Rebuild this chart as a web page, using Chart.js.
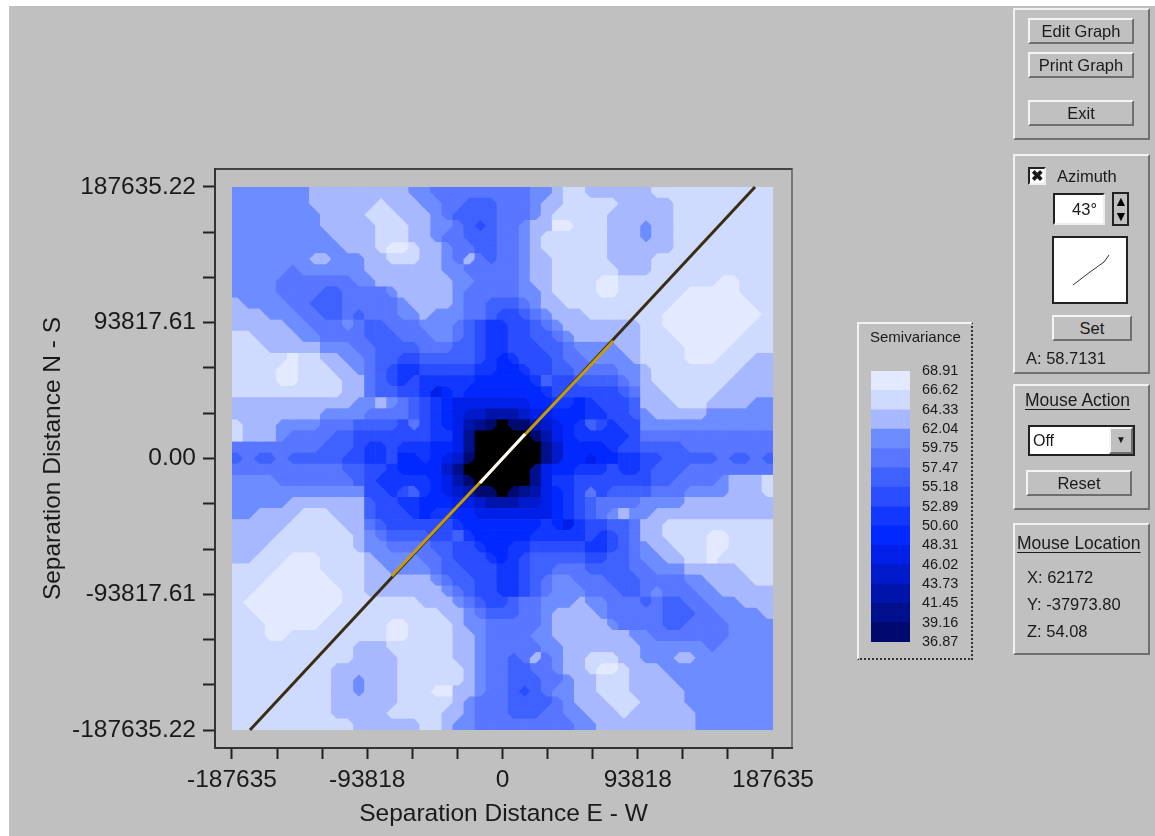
<!DOCTYPE html>
<html lang="en">
  <head>
    <meta charset="UTF-8" />
    <title>Semivariance Map</title>
    <script src="https://cdn.jsdelivr.net/npm/chart.js"></script>
    <style>
      html, body {
        margin: 0;
        padding: 0;
        width: 1155px;
        height: 836px;
        overflow: hidden;
        background: #fff;
        font-family: "Liberation Sans", Arial, sans-serif;
        color: #1a1a1a;
      }
      #sheet { position: absolute; left: 9px; top: 6px; width: 1146px; height: 830px; background: #c0c0c0; }
      #frame {
        position: absolute;
        left: 214px; top: 168px; width: 577px; height: 579px;
        border-top: 2px solid #444;
        border-right: 2px solid #777;
      }
      #mapBox { position: absolute; left: 0; top: 0; width: 1155px; height: 836px; }
      #legendBox { position: absolute; left: 860px; top: 355px; width: 110px; height: 300px; }
      .panel {
        position: absolute;
        box-sizing: border-box;
        border: 2px solid;
        border-color: #f2f2f2 #707070 #707070 #f2f2f2;
      }
      .btn {
        position: absolute;
        box-sizing: border-box;
        background: #c0c0c0;
        border: 2px solid;
        border-color: #f4f4f4 #6e6e6e #6e6e6e #f4f4f4;
        text-align: center;
        font-size: 16.5px;
      }
      .txt { position: absolute; font-size: 16.5px; white-space: nowrap; line-height: 18px; }
      .head { text-decoration: underline; text-underline-offset: 3px; font-size: 17.5px; }
    </style>
  </head>
  <body>
    <div id="sheet"></div>
    <div id="frame"></div>
    <div id="mapBox"><canvas id="mapChart" width="1155" height="836"></canvas></div>

    <div class="panel" style="left:857px;top:322px;width:116px;height:338px;border-right:2px dotted #333;border-bottom:2px dotted #333;"></div>
    <div class="txt" style="left:870px;top:328px;font-size:15px;">Semivariance</div>
    <div id="legendBox"><canvas id="legendChart" width="110" height="300"></canvas></div>

    <div class="panel" style="left:1013px;top:8px;width:137px;height:132px;"></div>
    <div class="btn" style="left:1028px;top:18px;width:106px;height:26px;line-height:22px;">Edit Graph</div>
    <div class="btn" style="left:1028px;top:52px;width:106px;height:26px;line-height:22px;">Print Graph</div>
    <div class="btn" style="left:1028px;top:100px;width:106px;height:26px;line-height:22px;">Exit</div>

    <div class="panel" style="left:1013px;top:154px;width:137px;height:220px;"></div>
    <div style="position:absolute;left:1028px;top:167px;width:18px;height:18px;box-sizing:border-box;background:#fff;border:2px solid #222;border-right-color:#eee;border-bottom-color:#eee;text-align:center;font:bold 15px/14px 'Liberation Sans';">&#10006;</div>
    <div class="txt" style="left:1057px;top:167px;">Azimuth</div>
    <div style="position:absolute;left:1053px;top:193px;width:52px;height:32px;box-sizing:border-box;background:#fff;border:2px solid #222;border-right-color:#eee;border-bottom-color:#eee;text-align:right;padding-right:6px;font-size:16.5px;line-height:28px;">43°</div>
    <div style="position:absolute;left:1112px;top:192px;width:17px;height:34px;box-sizing:border-box;border:2px solid #222;background:#c0c0c0;color:#000;font-size:14px;line-height:15px;text-align:center;">&#9650;<br />&#9660;</div>
    <div style="position:absolute;left:1052px;top:236px;width:76px;height:68px;box-sizing:border-box;background:#fff;border:2px solid #222;">
      <svg width="72" height="64"><polyline points="19,47 36,34 50,24 55,17" fill="none" stroke="#333" stroke-width="1" /></svg>
    </div>
    <div class="btn" style="left:1052px;top:315px;width:80px;height:26px;line-height:22px;">Set</div>
    <div class="txt" style="left:1026px;top:349px;">A: 58.7131</div>

    <div class="panel" style="left:1013px;top:384px;width:137px;height:126px;"></div>
    <div class="txt head" style="left:1025px;top:391px;">Mouse Action</div>
    <div style="position:absolute;left:1028px;top:425px;width:107px;height:31px;box-sizing:border-box;background:#fff;border:2px solid #222;border-right-color:#222;font-size:16px;line-height:27px;padding-left:3px;">Off</div>
    <div class="btn" style="left:1109px;top:427px;width:24px;height:27px;line-height:22px;font-size:10px;">&#9660;</div>
    <div class="btn" style="left:1026px;top:470px;width:106px;height:26px;line-height:22px;">Reset</div>

    <div class="panel" style="left:1013px;top:523px;width:137px;height:132px;"></div>
    <div class="txt head" style="left:1017px;top:534px;">Mouse Location</div>
    <div class="txt" style="left:1027px;top:568px;">X: 62172</div>
    <div class="txt" style="left:1027px;top:595px;">Y: -37973.80</div>
    <div class="txt" style="left:1027px;top:622px;">Z: 54.08</div>

    <script>
      const levels = [36.87, 39.16, 41.45, 43.73, 46.02, 48.31, 50.6, 52.89, 55.18, 57.47, 59.75, 62.04, 64.33, 66.62, 68.91];
      const levelLabels = ["36.87", "39.16", "41.45", "43.73", "46.02", "48.31", "50.60", "52.89", "55.18", "57.47", "59.75", "62.04", "64.33", "66.62", "68.91"];
      const bandColors = ["#000a6e", "#000f8c", "#0014ac", "#001acc", "#0020ea", "#0028ff", "#1238ff", "#2a4dff", "#3f62ff", "#5876ff", "#6d8cff", "#a8b8ff", "#cfdaff", "#e3e9ff"];
      const belowColor = "#000000";

      const xTicks = [-187635, -156362.5, -125090, -93817.5, -62545, -31272.5, 0, 31272.5, 62545, 93817.5, 125090, 156362.5, 187635];
      const xTickLabels = ["-187635", "", "", "-93818", "", "", "0", "", "", "93818", "", "", "187635"];
      const yTicks = [-187635.22, -156362.68, -125090.15, -93817.61, -62545.07, -31272.54, 0, 31272.54, 62545.07, 93817.61, 125090.15, 156362.68, 187635.22];
      const yTickLabels = ["-187635.22", "", "", "-93817.61", "", "", "0.00", "", "", "93817.61", "", "", "187635.22"];

      // azimuth line
      const lineDarkX = [-175150, 175150];
      const lineDarkY = [-187635, 187635];
      const lineGoldX = [-76800, 76800];
      const lineGoldY = [-81200, 81200];
      const lineWhiteX = [-15600, 15600];
      const lineWhiteY = [-16900, 16900];

      // map cells, north row first: 0 is below the scale, 1-9 a-e are the legend bands bottom to top
      const mapRows = [
        "bbbbbbbcccccccccbbaaaaaaaaabbcddccccccddddddddddd",
        "bbbbbbbccccccdcccbbaa999aaabccdddddcccccddddddddd",
        "bbbbbbbbccccdddcccba9999aaabcdddddccccccddddddddd",
        "bbbbbbbbcccccdddccbba989aabcceedddcccbccddddddddd",
        "bbbbbbbbbccccdddccbaa999aabcddddddcccbccddddddddd",
        "bbbbbbbbbbcccdeedccbaa99aabcddddddccccccddddddddd",
        "bbbbbbbccbbbccdddccbaca9aabccdddddccccddddddddddd",
        "bbbbbabbbbbbcccccccbbaaaaabccddddddcccddddddddddd",
        "bbbbaaaaaaabbcccccccbbaaaabccddddeedddddddddeeddd",
        "bbbbaaaa99aaaabcccccbaaaaabbcddddeeddddddeeeeeddd",
        "cbbbbaa999aaaaabccccbaa999abccddddddddddeeeeeeedd",
        "cccbbbaa99a9aaabbcbbbaa9889abcccdddddddeeeeeeeeed",
        "cccccbbaaaba99aaabbba9877889abcccccccddeeeeeeeedd",
        "ddccccbbaaaa999aaabba98778899abccccccdddeeeeeeddd",
        "dddcccccbbbaa9999aaa9987788899abbbbccddddeeeedddd",
        "dddddeddccbba99889999987678889aabbbbcddddeeedddcc",
        "ddddeedddccba987788888776678899aaaabbcddddddddccc",
        "ddddeeddddcca9878777776666679889999abcdddddddcccc",
        "ddddddddddcca99887567666666678888889accdddddccccc",
        "cccccccccccbbcba987655555556677678889cccdddccccbb",
        "ccccccccbbbbaaaa987654433345566677889bcccccbbbbbb",
        "dcccbbbbaaa99998a87653210113456798788bbbbbbbbbbbb",
        "dcccbaaaa9988888887752000001356777778aaaaaaaaaaaa",
        "aaaaaaaa999877877766520000002466667889999aaaaaaaa",
        "9a99a999998877866765410000002466566778899999a99a9",
        "aaaaaaaaaa9988766664200000025667778778999aaaaaaaa",
        "bbbbaaaaaaa98777776531000002577888888899aaaabcccd",
        "bbbbbbbbbbbb88789765431101235678a89999aaabbbbcccd",
        "bbbbbccccccc988776665543334456789aaaabbbbcccccccc",
        "bbccccdddccc988876776655555556789abcbbccccccccccc",
        "cccccdddddcca98888887666666676578899accdddddddddd",
        "ccccdddddddcba9999889766666777778789accddddeedddd",
        "cccddddddddcbbaaaa998876677888887789abccdddeedddd",
        "ccdddeeeddddcbbbbaa98887678999998899abbccddeddddd",
        "ddddeeeeddddccbbbba9988877899aaa9999aabbbcccccddd",
        "dddeeeeeedddccccccba99887789abbaaa999aaaabbccccdd",
        "ddeeeeeeeeddcccccccba9887789abbbaaa99abaaabbccccc",
        "deeeeeeeeedddddddcccba9889aabbbcbbaaa9a99aabbbccc",
        "ddeeeeeeeddddddddddccba999aabccccbaaaaa999aabbbbc",
        "dddeeeeeddddddeeddddcbbaaaaabcccccbaaaa99aaaabbbb",
        "dddeedddddddddeeddddccbaaaabbcccccccbbaaaaaaabbbb",
        "dddddddddddcccddddddccbaaaaabbcccccccbbbbbbabbbbb",
        "dddddddddddccccdddddccbaa9acabccdddccbbbccbbbbbbb",
        "dddddddddccccccddddddcbaa99aabccdeedcccbbbbbbbbbb",
        "dddddddddccbcccddddddcbaa999aabccdddccccbbbbbbbbb",
        "dddddddddccbcccdddeeccbaa989abbccdddcccccbbbbbbbb",
        "dddddddddccccccdddddcbaaa9999abcccdddccccbbbbbbbb",
        "dddddddddcccccdddddccbaaa999aabbcccdccccccbbbbbbb",
        "dddddddddddccccccddcbbaaaaaaaaabbcccccccccbbbbbbb"
      ];

      const cellChars = "0123456789abcde";
      const mapStep = 375270 / 49;
      const cells = [];
      const corners = [];
      mapRows.forEach((row, r) => {
        for (let c = 0; c < row.length; c++) {
          cells.push({
            x: -187635 + (c + 0.5) * mapStep,
            y: 187635.22 - (r + 0.5) * mapStep,
            band: cellChars.indexOf(row[c]),
          });
        }
      });
      // where three of four neighbouring cells agree, cut the odd cell's corner so contours run diagonal
      for (let r = 0; r < mapRows.length - 1; r++) {
        for (let c = 0; c < 48; c++) {
          const four = [mapRows[r][c], mapRows[r][c + 1], mapRows[r + 1][c], mapRows[r + 1][c + 1]];
          const major = four.find((ch) => four.filter((o) => o === ch).length === 3);
          if (major) {
            corners.push({
              x: -187635 + (c + 1) * mapStep,
              y: 187635.22 - (r + 1) * mapStep,
              band: cellChars.indexOf(major),
            });
          }
        }
      }

      const axisFont = { family: "'Liberation Sans', Arial, sans-serif", size: 24.5 };
      const titleFont = { family: "'Liberation Sans', Arial, sans-serif", size: 24.5 };
      const inkColor = "#1a1a1a";
      const mapClip = { left: -17, top: -18, right: -19, bottom: -18 };

      function cellSide(ctx) {
        const scale = ctx.chart.scales.x;
        return scale.getPixelForValue(mapStep) - scale.getPixelForValue(0);
      }

      function bandColor(ctx) {
        return ctx.raw.band === 0 ? belowColor : bandColors[ctx.raw.band - 1];
      }

      function lineSet(xs, ys, color, width) {
        return {
          type: "line",
          data: xs.map((x, i) => ({ x: x, y: ys[i] })),
          borderColor: color,
          borderWidth: width,
          pointRadius: 0,
        };
      }

      new Chart(document.getElementById("mapChart"), {
        type: "scatter",
        data: {
          datasets: [
            lineSet(lineWhiteX, lineWhiteY, "#ffffff", 3),
            lineSet(lineGoldX, lineGoldY, "#c39a12", 3),
            lineSet(lineDarkX, lineDarkY, "#3a2e12", 3),
            {
              data: corners,
              pointStyle: "rectRot",
              pointRadius: (ctx) => cellSide(ctx) * 0.5,
              pointBorderWidth: 0,
              pointBackgroundColor: bandColor,
              clip: mapClip,
            },
            {
              data: cells,
              pointStyle: "rect",
              pointRadius: (ctx) => (cellSide(ctx) + 0.6) / Math.SQRT2,
              pointBorderWidth: 0,
              pointBackgroundColor: bandColor,
              clip: mapClip,
            },
          ],
        },
        options: {
          responsive: false,
          animation: false,
          events: [],
          layout: { padding: { top: 169, right: 363, left: 0, bottom: 0 } },
          plugins: { legend: { display: false }, tooltip: { enabled: false } },
          scales: {
            x: {
              type: "linear",
              min: -199427,
              max: 200815,
              afterBuildTicks: (scale) => {
                scale.ticks = xTicks.map((v) => ({ value: v }));
              },
              afterFit: (scale) => {
                scale.height = 88;
              },
              ticks: {
                autoSkip: false,
                maxRotation: 0,
                font: axisFont,
                color: inkColor,
                padding: 7,
                callback: (v, i) => xTickLabels[i],
              },
              grid: { drawOnChartArea: false, drawTicks: true, tickLength: 11, tickColor: "#222", tickWidth: 2 },
              border: { display: true, color: "#333", width: 2 },
              title: { display: true, text: "Separation Distance E - W", font: titleFont, color: inkColor, padding: { top: 0, bottom: 7 } },
            },
            y: {
              type: "linear",
              min: -200075,
              max: 200075,
              afterBuildTicks: (scale) => {
                scale.ticks = yTicks.map((v) => ({ value: v }));
              },
              afterFit: (scale) => {
                scale.width = 215;
              },
              ticks: {
                autoSkip: false,
                font: axisFont,
                color: inkColor,
                padding: 7,
                callback: (v, i) => yTickLabels[i],
              },
              grid: { drawOnChartArea: false, drawTicks: true, tickLength: 12, tickColor: "#222", tickWidth: 2 },
              border: { display: true, color: "#333", width: 2 },
              title: { display: true, text: "Separation Distance N - S", font: titleFont, color: inkColor, padding: { top: 39, bottom: 0 } },
            },
          },
        },
      });

      // legend as floating bars between the class limits
      new Chart(document.getElementById("legendChart"), {
        type: "bar",
        data: {
          labels: ["Semivariance"],
          datasets: bandColors.map((color, i) => ({
            data: [[levels[i], levels[i + 1]]],
            backgroundColor: color,
            barPercentage: 1,
            categoryPercentage: 1,
            grouped: false,
            borderWidth: 0,
          })),
        },
        options: {
          responsive: false,
          animation: false,
          events: [],
          layout: { padding: { left: 11, top: 16, bottom: 13, right: 0 } },
          plugins: { legend: { display: false }, tooltip: { enabled: false } },
          scales: {
            x: { display: false },
            y: {
              position: "right",
              min: 36.87,
              max: 68.91,
              afterBuildTicks: (scale) => {
                scale.ticks = levels.map((v) => ({ value: v }));
              },
              afterFit: (scale) => {
                scale.width = 60;
                scale.paddingTop = 0;
                scale.paddingBottom = 0;
              },
              ticks: {
                autoSkip: false,
                font: { family: "'Liberation Sans', Arial, sans-serif", size: 14.5 },
                color: inkColor,
                padding: 12,
                callback: (v, i) => levelLabels[i],
              },
              grid: { display: false, drawTicks: false },
              border: { display: false },
            },
          },
        },
      });
    </script>
  </body>
</html>
